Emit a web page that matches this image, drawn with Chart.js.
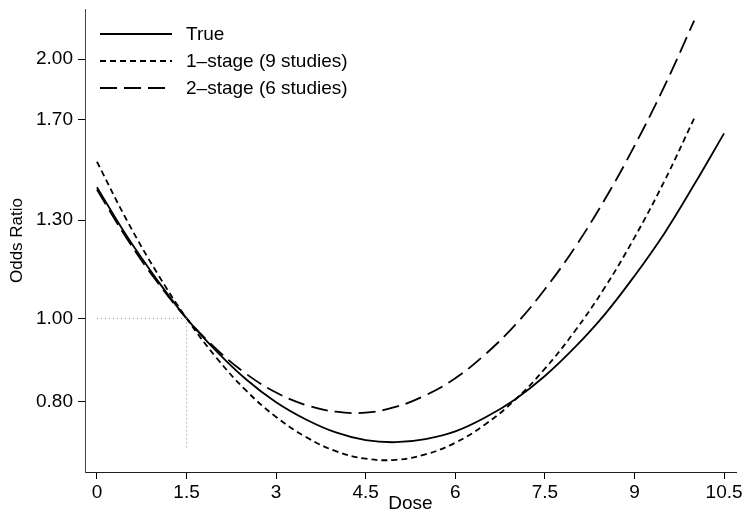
<!DOCTYPE html>
<html>
<head>
<meta charset="utf-8">
<script src="https://cdn.jsdelivr.net/npm/chart.js@4.4.1/dist/chart.umd.min.js"></script>
<style>
  html, body { margin: 0; padding: 0; background: #fff; }
  #wrap { width: 745px; height: 521px; }
</style>
</head>
<body>
<div id="wrap"><canvas id="myChart" width="745" height="521"></canvas></div>
<script>
const doses = [0, 0.5, 1, 1.5, 2, 2.5, 3, 3.5, 4, 4.5, 5, 5.5, 6, 6.5, 7, 7.5, 8, 8.5, 9, 9.5, 10, 10.5];
const trueOR = [1.42, 1.246, 1.11, 1.0, 0.916, 0.849, 0.799, 0.763, 0.737, 0.722, 0.718, 0.724, 0.739, 0.767, 0.805, 0.857, 0.925, 1.01, 1.12, 1.255, 1.43, 1.64];
const oneStageOR = [1.52, 1.3, 1.131, 1.0, 0.9, 0.824, 0.768, 0.728, 0.701, 0.687, 0.685, 0.695, 0.717, 0.753, 0.804, 0.874, 0.966, 1.085, 1.241, 1.443, 1.707];
const twoStageOR = [1.411, 1.238, 1.104, 1.0, 0.921, 0.862, 0.82, 0.793, 0.779, 0.777, 0.789, 0.814, 0.852, 0.908, 0.982, 1.081, 1.208, 1.373, 1.586, 1.859, 2.217];
const refH = [[0, 1.0], [1.5, 1.0]];
const refV = [[1.5, 1.0], [1.5, 0.707]];
const xTicks = [0, 1.5, 3, 4.5, 6, 7.5, 9, 10.5];
const yTicks = [0.8, 1.0, 1.3, 1.7, 2.0];

const FONT = "'Liberation Sans', Arial, Helvetica, sans-serif";
const pts = (ys) => ys.map((y, i) => ({ x: doses[i], y }));
const pairs = (p) => p.map(([x, y]) => ({ x, y }));

// legend drawn inside the plot, like the original
const lineLegend = {
  id: "lineLegend",
  afterDatasetsDraw(chart) {
    const c = chart.ctx;
    const x0 = chart.chartArea.left + 15;
    let y = chart.chartArea.top + 25;
    chart.data.datasets.forEach((ds) => {
      if (!ds.label) return;
      c.save();
      c.strokeStyle = ds.borderColor;
      c.lineWidth = ds.borderWidth;
      c.setLineDash(ds.borderDash || []);
      c.beginPath();
      c.moveTo(x0, y);
      c.lineTo(x0 + 72, y);
      c.stroke();
      c.setLineDash([]);
      c.fillStyle = "#000";
      c.font = "19px " + FONT;
      c.textBaseline = "middle";
      c.fillText(ds.label, x0 + 86, y + 1);
      c.restore();
      y += 27;
    });
  },
};

const line = (label, ys, dash) => ({
  label,
  data: pts(ys),
  borderColor: "#000",
  borderWidth: 1.8,
  borderDash: dash,
  pointRadius: 0,
  tension: 0.4,
  fill: false,
});

const dotted = (p) => ({
  label: "",
  data: pairs(p),
  borderColor: "#888",
  borderWidth: 1,
  borderDash: [1, 3],
  pointRadius: 0,
  fill: false,
});

const ctx = document.querySelector("#myChart").getContext("2d");
const myChart = new Chart(ctx, {
  type: "line",
  data: {
    datasets: [
      dotted(refH),
      dotted(refV),
      line("True", trueOR, []),
      line("1\u2013stage (9 studies)", oneStageOR, [6, 4]),
      line("2\u2013stage (6 studies)", twoStageOR, [17, 7]),
    ],
  },
  options: {
    responsive: false,
    animation: false,
    layout: { padding: { top: 9, right: 9, left: 0, bottom: 0 } },
    plugins: { legend: { display: false }, tooltip: { enabled: false } },
    scales: {
      x: {
        type: "linear",
        min: -0.2,
        max: 10.7,
        afterFit: (s) => { s.height = 49; s.paddingLeft = 0; s.paddingRight = 0; },
        afterBuildTicks: (s) => { s.ticks = xTicks.map((v) => ({ value: v })); },
        grid: { drawOnChartArea: false, tickLength: 7, color: "#000" },
        border: { color: "#222", width: 1 },
        ticks: {
          padding: 2,
          color: "#000",
          font: { family: FONT, size: 19 },
          callback: (v) => String(v),
        },
        title: {
          display: true,
          text: "Dose",
          color: "#000",
          font: { family: FONT, size: 19 },
          padding: { top: 0, bottom: 6 },
        },
      },
      y: {
        type: "logarithmic",
        min: 0.663,
        max: 2.287,
        afterFit: (s) => { s.width = 85; s.paddingTop = 0; s.paddingBottom = 0; },
        afterBuildTicks: (s) => { s.ticks = yTicks.map((v) => ({ value: v })); },
        grid: { drawOnChartArea: false, tickLength: 7, color: "#000" },
        border: { color: "#444", width: 1 },
        ticks: {
          padding: 5,
          color: "#000",
          font: { family: FONT, size: 19 },
          callback: (v) => Number(v).toFixed(2),
        },
        title: {
          display: true,
          text: "Odds Ratio",
          color: "#000",
          font: { family: FONT, size: 17 },
          padding: { top: 7, bottom: 0 },
        },
      },
    },
  },
  plugins: [lineLegend],
});
</script>
</body>
</html>
